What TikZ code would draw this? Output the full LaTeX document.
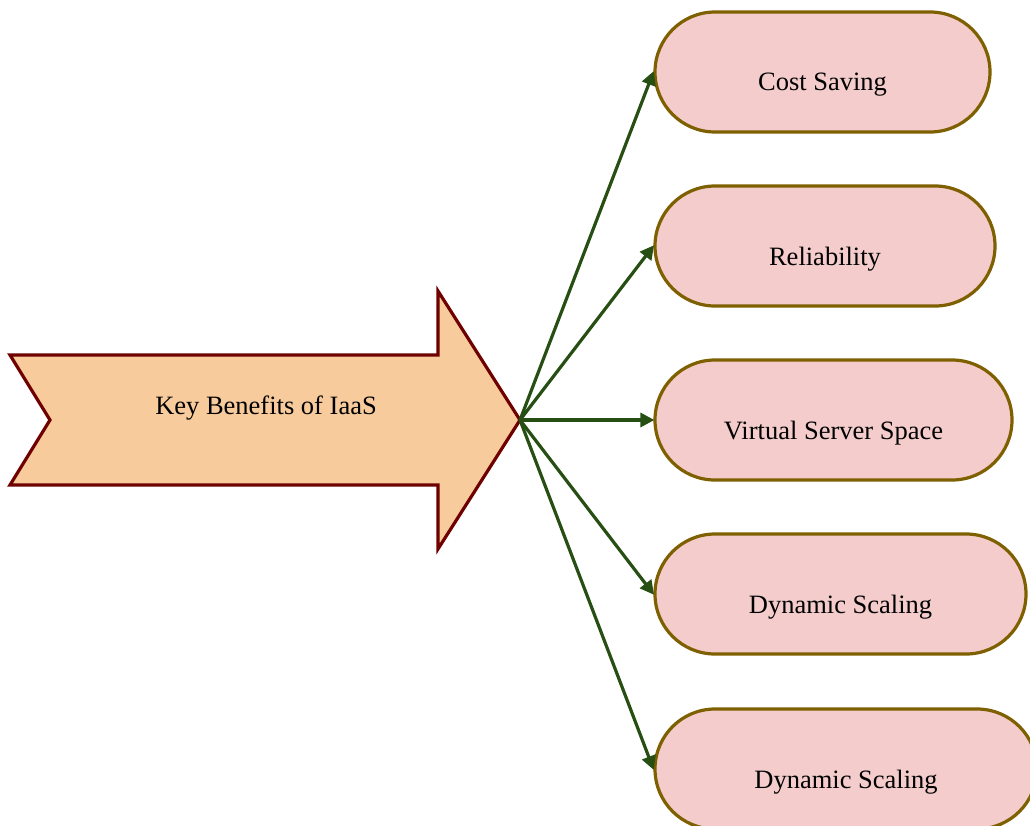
\documentclass[tikz,border=0pt]{standalone}
\usepackage{fontspec}
\setmainfont{Liberation Serif}
\usetikzlibrary{shapes.misc,arrows.meta}
\definecolor{arrowfill}{HTML}{F8CB9D}
\definecolor{arrowline}{HTML}{6E0000}
\definecolor{pillfill}{HTML}{F4CCCC}
\definecolor{pillline}{HTML}{7F6000}
\definecolor{linkgreen}{HTML}{274E13}
\tikzset{
  pill/.style={rounded rectangle, draw=pillline, fill=pillfill, line width=3.2pt,
    minimum height=120pt, inner sep=0pt},
  caption/.style={font=\fontsize{26.5}{30}\selectfont, text=black, inner sep=0pt},
  link/.style={draw=linkgreen, line width=3.2pt,
    -{Triangle[length=14pt,width=14pt]}, shorten >=-1pt},
}
\begin{document}
\begin{tikzpicture}[x=1pt,y=-1pt]
\clip (0,0) rectangle (1030,825);
% big notched arrow
\draw[fill=arrowfill, draw=arrowline, line width=3.2pt, line join=miter]
  (10,355) -- (438,355) -- (438,291) -- (520,420) -- (438,549) -- (438,485)
  -- (10,485) -- (50,420) -- cycle;
\coordinate (tip) at (520,420);
\node[caption] (main) at (266,408) {Key Benefits of IaaS};
% benefit pills
\node[pill, minimum width=335pt] (p1) at (822.5,72) {};
\node[pill, minimum width=340pt] (p2) at (825,246) {};
\node[pill, minimum width=357pt] (p3) at (833.5,420) {};
\node[pill, minimum width=371pt] (p4) at (840.5,594) {};
\node[pill, minimum width=382pt] (p5) at (846,769) {};
\node[caption] at ([yshift=-13pt]p1.center) {Cost Saving};
\node[caption] at ([yshift=-13pt]p2.center) {Reliability};
\node[caption] at ([yshift=-13pt]p3.center) {Virtual Server Space};
\node[caption] at ([yshift=-13pt]p4.center) {Dynamic Scaling};
\node[caption] at ([yshift=-13pt]p5.center) {Dynamic Scaling};
% connectors
\foreach \p in {p1,p2,p3,p4,p5}
  \draw[link] (tip) -- (\p.west);
\end{tikzpicture}
\end{document}
